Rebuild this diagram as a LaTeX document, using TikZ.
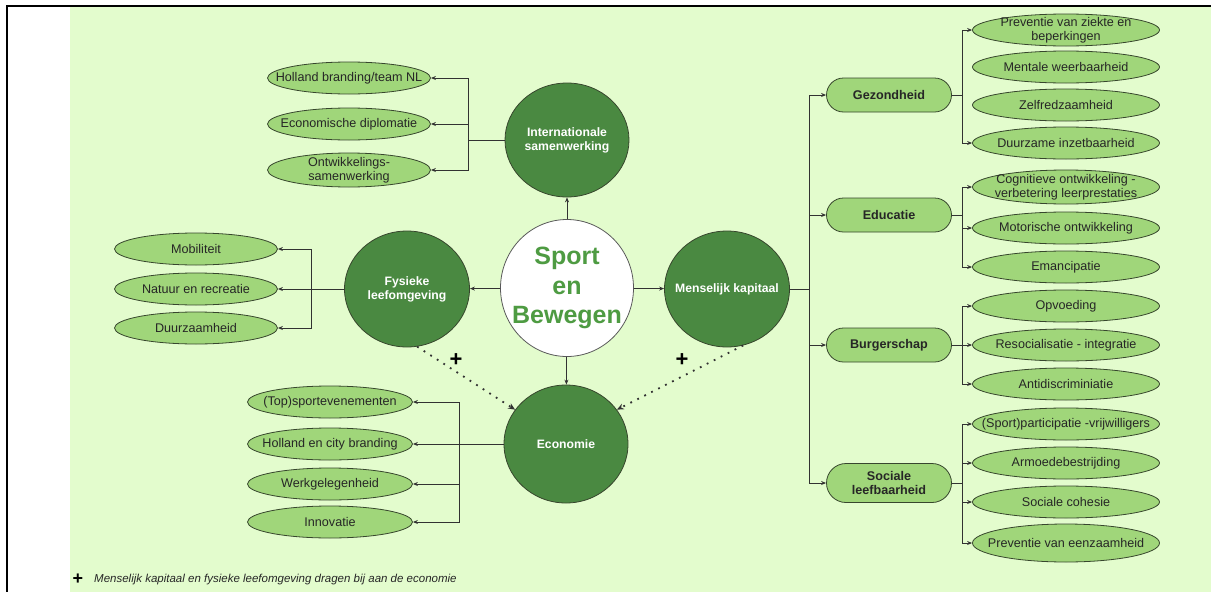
\documentclass[tikz,border=0pt]{standalone}
\usepackage{fontspec}
\setmainfont{Liberation Sans}
\usetikzlibrary{shapes.geometric,shapes.misc,arrows.meta}
\definecolor{bgc}{RGB}{227,252,205}
\definecolor{subc}{RGB}{160,214,122}
\definecolor{darkc}{RGB}{74,137,65}
\definecolor{edgec}{RGB}{55,70,45}
\definecolor{sportc}{RGB}{78,155,66}
\definecolor{linec}{RGB}{50,50,50}
\begin{document}
\begin{tikzpicture}[x=1pt,y=-1pt,
  subnode/.style={ellipse, draw=edgec, fill=subc, line width=0.8pt, minimum width=163, minimum height=32, inner xsep=-40pt, inner ysep=-12pt, align=center, font=\fontsize{12.6}{13.5}\selectfont, text=black!85},
  rsub/.style={subnode, minimum width=187},
  catnode/.style={rounded rectangle, draw=edgec, fill=subc, line width=0.8pt, minimum width=125, minimum height=34, inner sep=0pt, align=center, font=\bfseries\fontsize{12.6}{13.5}\selectfont, text=black!85},
  bigc/.style={ellipse, draw=edgec, fill=darkc, line width=0.8pt, minimum width=124, minimum height=114, inner xsep=-30pt, inner ysep=-20pt, align=center, text=white, font=\bfseries\fontsize{12.2}{14}\selectfont},
  conn/.style={draw=linec, line width=0.8pt},
  arr/.style={conn, -{Stealth[length=5pt,width=4pt]}},
  dotarr/.style={conn, line width=1.8pt, dash pattern=on 1.8pt off 6pt, -{Stealth[length=7pt,width=6pt]}},
  plus/.style={inner sep=0pt, font=\bfseries\fontsize{22}{22}\selectfont}
]
\useasboundingbox (0,0) rectangle (1211,592);
\fill[bgc] (70,6) rectangle (1211,592);
\draw[line width=2pt] (7,592) -- (7,6) -- (1211,6);

% centre
\node[ellipse, draw=gray!70!black, fill=white, line width=0.8pt, minimum width=133, minimum height=137, inner xsep=-30pt, inner ysep=-20pt, align=center, text=sportc, font=\bfseries\fontsize{25}{29.5}\selectfont] (sport) at (567,288) {Sport\\en\\Bewegen};

% main circles
\node[bigc] (intl) at (567,140) {Internationale\\samenwerking};
\node[bigc, minimum width=125, minimum height=116] (fys) at (407,289) {Fysieke\\leefomgeving};
\node[bigc, minimum width=125, minimum height=116] (mk) at (727,289) {Menselijk kapitaal};
\node[bigc, minimum height=118] (eco) at (566,444) {Economie};

\draw[arr] (sport) -- (intl);
\draw[arr] (sport) -- (fys);
\draw[arr] (sport) -- (mk);
\draw[arr] (sport) -- (eco);

% internationale
\node[subnode] (i1) at (349,78) {Holland branding/team NL};
\node[subnode] (i2) at (349,124) {Economische diplomatie};
\node[subnode, minimum height=34] (i3) at (349,170) {Ontwikkelings-\\samenwerking};
\coordinate (tI) at (468,140);
\draw[conn] (intl.west) -- (tI);
\draw[arr] (tI) |- (i1.east);
\draw[arr] (tI) |- (i2.east);
\draw[arr] (tI) |- (i3.east);

% fysieke
\node[subnode] (f1) at (196,249) {Mobiliteit};
\node[subnode] (f2) at (196,289) {Natuur en recreatie};
\node[subnode] (f3) at (196,328) {Duurzaamheid};
\coordinate (tF) at (311,289);
\draw[conn] (fys.west) -- (tF);
\draw[arr] (tF) |- (f1.east);
\draw[arr] (tF) -- (f2.east);
\draw[arr] (tF) |- (f3.east);

% economie
\node[subnode, minimum width=165] (e1) at (330,402) {(Top)sportevenementen};
\node[subnode, minimum width=165] (e2) at (330,444) {Holland en city branding};
\node[subnode, minimum width=165] (e3) at (330,484) {Werkgelegenheid};
\node[subnode, minimum width=165] (e4) at (330,522) {Innovatie};
\coordinate (tE) at (459,444);
\draw[arr] (eco.west) -- (e2.east);
\draw[arr] (tE) |- (e1.east);
\draw[arr] (tE) |- (e3.east);
\draw[arr] (tE) |- (e4.east);

% dotted contributions
\draw[dotarr] (fys.-80) -- (eco.146);
\draw[dotarr] (mk.-74) -- (eco.34);
\node[plus] (p1) at (456,360) {+};
\node[plus] (p2) at (682,360) {+};

% menselijk kapitaal categories
\node[catnode] (gez) at (889,95) {Gezondheid};
\node[catnode] (edu) at (889,215) {Educatie};
\node[catnode] (bur) at (889,345) {Burgerschap};
\node[catnode, minimum height=39] (soc) at (889,483) {Sociale\\leefbaarheid};
\coordinate (tM) at (809,289);
\draw[conn] (mk.east) -- (tM);
\draw[arr] (tM) |- (gez.west);
\draw[arr] (tM) |- (edu.west);
\draw[arr] (tM) |- (bur.west);
\draw[arr] (tM) |- (soc.west);

% gezondheid
\node[rsub] (g1) at (1066,30) {Preventie van ziekte en\\beperkingen};
\node[rsub] (g2) at (1066,67) {Mentale weerbaarheid};
\node[rsub] (g3) at (1066,105) {Zelfredzaamheid};
\node[rsub] (g4) at (1066,143) {Duurzame inzetbaarheid};
\coordinate (tG) at (962,95);
\draw[conn] (gez.east) -- (tG);
\draw[arr] (tG) |- (g1.west);
\draw[arr] (tG) |- (g4.west);

% educatie
\node[rsub, minimum height=34] (d1) at (1066,187) {Cognitieve ontwikkeling -\\verbetering leerprestaties};
\node[rsub] (d2) at (1066,228) {Motorische ontwikkeling};
\node[rsub] (d3) at (1066,267) {Emancipatie};
\coordinate (tD) at (962,215);
\draw[conn] (edu.east) -- (tD);
\draw[arr] (tD) |- (d1.west);
\draw[arr] (tD) |- (d2.west);
\draw[arr] (tD) |- (d3.west);

% burgerschap
\node[rsub] (b1) at (1066,306) {Opvoeding};
\node[rsub] (b2) at (1066,345) {Resocialisatie - integratie};
\node[rsub] (b3) at (1066,384) {Antidiscriminiatie};
\coordinate (tB) at (962,345);
\draw[arr] (bur.east) -- (b2.west);
\draw[arr] (tB) |- (b1.west);
\draw[arr] (tB) |- (b3.west);

% sociale leefbaarheid
\node[rsub] (s1) at (1066,424) {(Sport)participatie -vrijwilligers};
\node[rsub] (s2) at (1066,463) {Armoedebestrijding};
\node[rsub] (s3) at (1066,502) {Sociale cohesie};
\node[rsub, minimum height=38] (s4) at (1066,543) {Preventie van eenzaamheid};
\coordinate (tS) at (962,483);
\draw[conn] (soc.east) -- (tS);
\draw[arr] (tS) |- (s1.west);
\draw[arr] (tS) |- (s2.west);
\draw[arr] (tS) |- (s3.west);
\draw[arr] (tS) |- (s4.west);

% legend
\node[plus, font=\bfseries\fontsize{18}{18}\selectfont] (lp) at (78,579) {+};
\node[anchor=west, inner sep=0pt, font=\itshape\fontsize{11.5}{13}\selectfont, text=black!85] (leg) at (94,580) {Menselijk kapitaal en fysieke leefomgeving dragen bij aan de economie};
\end{tikzpicture}
\end{document}
